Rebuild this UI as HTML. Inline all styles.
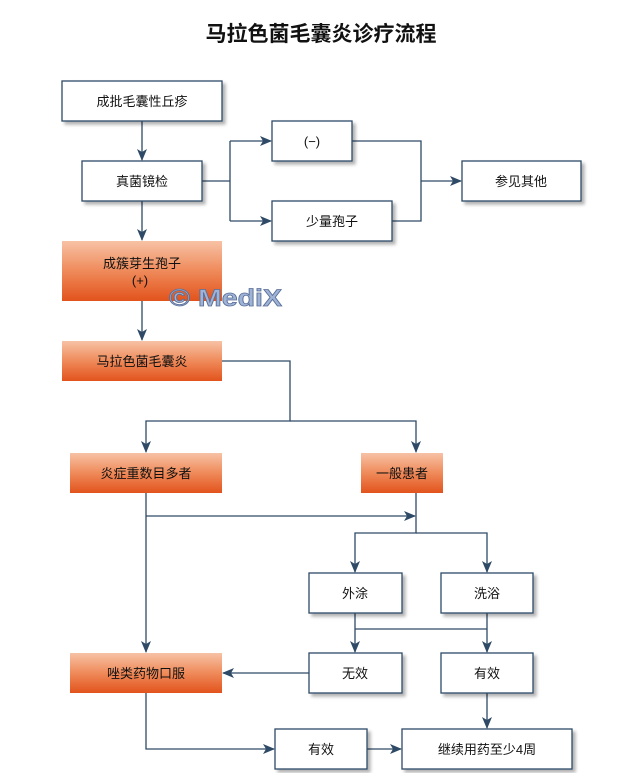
<!DOCTYPE html>
<html><head><meta charset="utf-8"><style>
html,body{margin:0;padding:0;background:#fff;}
svg{display:block;font-family:"Liberation Sans","Noto Sans CJK SC",sans-serif;}
</style></head><body>
<svg width="642" height="773" viewBox="0 0 642 773" xmlns="http://www.w3.org/2000/svg">
<defs>
<linearGradient id="og" x1="0" y1="0" x2="0" y2="1">
<stop offset="0" stop-color="#f7c2a5"/><stop offset="0.5" stop-color="#ef8a5a"/><stop offset="1" stop-color="#e2531c"/>
</linearGradient>
<marker id="ar" markerWidth="12" markerHeight="10" refX="11" refY="5" orient="auto" markerUnits="userSpaceOnUse">
<path d="M0,0 L12,5 L0,10 L3,5 Z" fill="#2e4a66"/>
</marker>
<filter id="sh" x="-10%" y="-10%" width="130%" height="140%"><feDropShadow dx="3" dy="3" stdDeviation="1.5" flood-color="#000" flood-opacity="0.3"/></filter>
</defs>
<text x="321" y="41" text-anchor="middle" font-size="21" font-weight="bold" fill="#111">马拉色菌毛囊炎诊疗流程</text>

<g fill="none" stroke="#2e4a66" stroke-width="1.3">
<path d="M142,121 V160" marker-end="url(#ar)"/>
<path d="M202,181 H230 M230,141 V221 M230,141 H271" marker-end="url(#ar)"/>
<path d="M230,221 H271" marker-end="url(#ar)"/>
<path d="M352,141 H421 V221 H392 M421,181 H461" marker-end="url(#ar)"/>
<path d="M142,201 V240" marker-end="url(#ar)"/>
<path d="M142,301 V340" marker-end="url(#ar)"/>
<path d="M222,361 H290 V421 H146 V452" marker-end="url(#ar)"/>
<path d="M290,421 H416 V452" marker-end="url(#ar)"/>
<path d="M146,493 V652" marker-end="url(#ar)"/>
<path d="M146,516 H415" marker-end="url(#ar)"/>
<path d="M416,493 V533 H355 V572" marker-end="url(#ar)"/>
<path d="M416,533 H487 V572" marker-end="url(#ar)"/>
<path d="M355,613 V652" marker-end="url(#ar)"/>
<path d="M355,629 H487 M487,613 V652" marker-end="url(#ar)"/>
<path d="M309,673 H223" marker-end="url(#ar)"/>
<path d="M487,693 V728" marker-end="url(#ar)"/>
<path d="M146,693 V749 H274" marker-end="url(#ar)"/>
<path d="M367,749 H401" marker-end="url(#ar)"/>
</g>

<g fill="#fff" stroke="#2e4a66" stroke-width="1.3" filter="url(#sh)">
<rect x="62" y="81" width="160" height="40"/>
<rect x="82" y="161" width="120" height="40"/>
<rect x="272" y="121" width="80" height="40"/>
<rect x="272" y="201" width="120" height="40"/>
<rect x="462" y="161" width="119" height="40"/>
<rect x="309" y="573" width="93" height="40"/>
<rect x="441" y="573" width="92" height="40"/>
<rect x="309" y="653" width="93" height="40"/>
<rect x="441" y="653" width="92" height="40"/>
<rect x="275" y="729" width="92" height="40"/>
<rect x="402" y="729" width="170" height="40"/>
</g>
<g fill="url(#og)">
<rect x="62" y="241" width="160" height="60"/>
<rect x="62" y="341" width="160" height="40"/>
<rect x="70" y="453" width="152" height="40"/>
<rect x="361" y="453" width="82" height="40"/>
<rect x="70" y="653" width="152" height="40"/>
</g>

<g font-size="13" fill="#111" text-anchor="middle">
<text x="142" y="106">成批毛囊性丘疹</text>
<text x="142" y="186">真菌镜检</text>
<text x="312" y="146">(−)</text>
<text x="332" y="226">少量孢子</text>
<text x="521" y="186">参见其他</text>
<text x="142" y="268">成簇芽生孢子</text>
<text x="140" y="285">(+)</text>
<text x="142" y="366">马拉色菌毛囊炎</text>
<text x="146" y="478">炎症重数目多者</text>
<text x="402" y="478">一般患者</text>
<text x="355" y="598">外涂</text>
<text x="487" y="598">洗浴</text>
<text x="146" y="678">唑类药物口服</text>
<text x="355" y="678">无效</text>
<text x="487" y="678">有效</text>
<text x="321" y="754">有效</text>
<text x="487" y="754">继续用药至少4周</text>
</g>
<text x="169" y="306" font-size="24" font-weight="bold" fill="#9fb3d6" stroke="#5a6f99" stroke-width="0.8" textLength="113" lengthAdjust="spacingAndGlyphs">© MediX</text>
</svg>
</body></html>
